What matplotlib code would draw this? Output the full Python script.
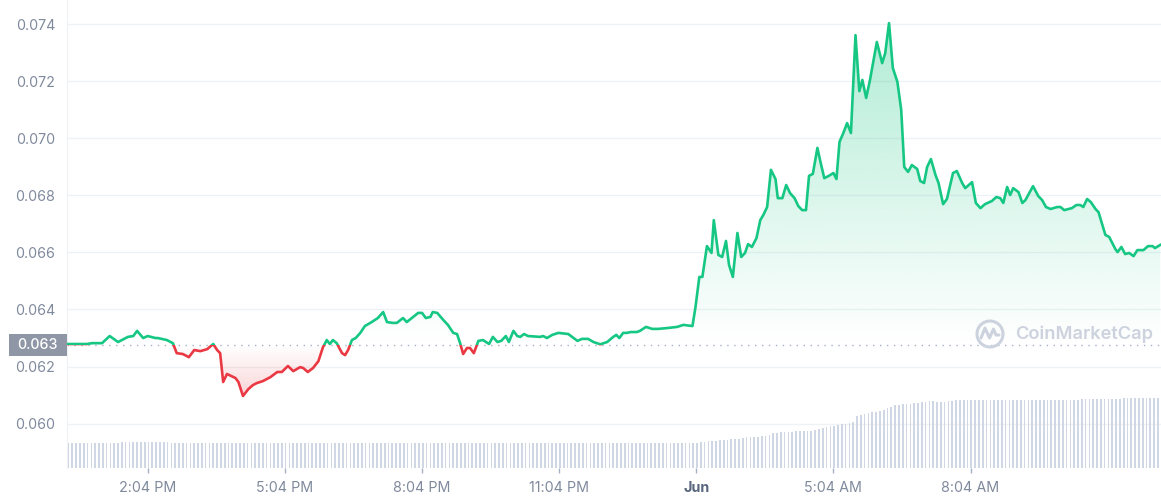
import numpy as np
import matplotlib
matplotlib.use("Agg")
import matplotlib.pyplot as plt
import matplotlib.transforms as mtransforms
from matplotlib.patches import Rectangle, Circle
from matplotlib.lines import Line2D
from matplotlib.colors import to_rgb

plt.rcParams['font.family'] = ['Inter', 'DejaVu Sans']

# minutes since the start of the 24h window (12:18 PM)
minutes = [
    0, 26, 33, 46, 56, 67, 80, 87, 92, 100,
    106, 116, 119, 131, 139, 144, 152, 160, 167, 175,
    184, 192, 197, 201, 205, 210, 221, 225, 231, 238,
    244, 249, 257, 267, 276, 282, 290, 297, 306, 310,
    316, 323, 330, 336, 341, 345, 349, 354, 361, 365,
    369, 374, 379, 385, 391, 400, 408, 415, 420, 427,
    433, 441, 446, 461, 466, 471, 477, 480, 486, 494,
    500, 507, 512, 516, 520, 525, 529, 534, 540, 546,
    554, 559, 565, 570, 576, 580, 586, 591, 595, 600,
    605, 621, 625, 630, 637, 645, 658, 663, 670, 676,
    684, 691, 700, 709, 717, 721, 725, 730, 735, 740,
    748, 752, 760, 768, 776, 788, 801, 809, 821, 825,
    830, 834, 840, 846, 849, 855, 860, 865, 869, 874,
    880, 885, 890, 894, 899, 905, 910, 914, 919, 924,
    930, 933, 939, 944, 949, 955, 960, 965, 970, 974,
    979, 985, 989, 994, 1000, 1006, 1010, 1014, 1019, 1024,
    1029, 1035, 1040, 1044, 1049, 1054, 1063, 1070, 1074, 1079,
    1084, 1090, 1095, 1099, 1104, 1109, 1116, 1120, 1125, 1129,
    1134, 1140, 1144, 1150, 1155, 1163, 1168, 1175, 1179, 1188,
    1193, 1199, 1205, 1214, 1220, 1225, 1229, 1234, 1238, 1242,
    1249, 1254, 1258, 1268, 1275, 1280, 1285, 1291, 1300, 1304,
    1309, 1319, 1325, 1330, 1334, 1339, 1344, 1350, 1354, 1363,
    1368, 1376, 1379, 1384, 1389, 1394, 1400, 1405, 1413, 1419,
    1425, 1428, 1435,
]

price = [
    0.06279, 0.06279, 0.06282, 0.06282, 0.06307, 0.06286, 0.06304, 0.06307, 0.06325, 0.06300,
    0.06307, 0.06300, 0.06300, 0.06293, 0.06282, 0.06247, 0.06244, 0.06233, 0.06258, 0.06254,
    0.06261, 0.06279, 0.06258, 0.06247, 0.06146, 0.06174, 0.06160, 0.06146, 0.06097, 0.06121,
    0.06135, 0.06142, 0.06149, 0.06163, 0.06181, 0.06181, 0.06202, 0.06184, 0.06198, 0.06195,
    0.06181, 0.06195, 0.06219, 0.06268, 0.06293, 0.06279, 0.06293, 0.06282, 0.06247, 0.06240,
    0.06258, 0.06293, 0.06300, 0.06318, 0.06342, 0.06356, 0.06370, 0.06391, 0.06356, 0.06353,
    0.06353, 0.06370, 0.06356, 0.06388, 0.06388, 0.06370, 0.06374, 0.06391, 0.06388, 0.06363,
    0.06346, 0.06318, 0.06314, 0.06282, 0.06244, 0.06265, 0.06265, 0.06247, 0.06290, 0.06293,
    0.06279, 0.06304, 0.06286, 0.06290, 0.06307, 0.06286, 0.06325, 0.06307, 0.06304, 0.06314,
    0.06307, 0.06304, 0.06307, 0.06300, 0.06311, 0.06318, 0.06314, 0.06304, 0.06290, 0.06297,
    0.06297, 0.06286, 0.06278, 0.06286, 0.06304, 0.06311, 0.06300, 0.06318, 0.06318, 0.06321,
    0.06321, 0.06325, 0.06339, 0.06332, 0.06332, 0.06335, 0.06339, 0.06346, 0.06342, 0.06409,
    0.06514, 0.06514, 0.06622, 0.06598, 0.06713, 0.06591, 0.06584, 0.06640, 0.06556, 0.06514,
    0.06668, 0.06584, 0.06598, 0.06629, 0.06619, 0.06650, 0.06713, 0.06731, 0.06759, 0.06889,
    0.06857, 0.06790, 0.06790, 0.06836, 0.06808, 0.06790, 0.06762, 0.06748, 0.06748, 0.06868,
    0.06875, 0.06966, 0.06917, 0.06860, 0.06868, 0.06878, 0.06857, 0.06987, 0.07018, 0.07053,
    0.07018, 0.07361, 0.07165, 0.07204, 0.07141, 0.07204, 0.07337, 0.07263, 0.07298, 0.07403,
    0.07246, 0.07197, 0.07099, 0.06899, 0.06882, 0.06906, 0.06892, 0.06850, 0.06843, 0.06899,
    0.06927, 0.06871, 0.06843, 0.06769, 0.06787, 0.06878, 0.06885, 0.06843, 0.06825, 0.06846,
    0.06773, 0.06755, 0.06769, 0.06780, 0.06794, 0.06790, 0.06773, 0.06829, 0.06801, 0.06825,
    0.06811, 0.06773, 0.06783, 0.06832, 0.06797, 0.06783, 0.06759, 0.06752, 0.06759, 0.06759,
    0.06748, 0.06755, 0.06766, 0.06766, 0.06759, 0.06787, 0.06776, 0.06752, 0.06741, 0.06661,
    0.06654, 0.06612, 0.06601, 0.06619, 0.06594, 0.06598, 0.06587, 0.06608, 0.06608, 0.06622,
    0.06622, 0.06615, 0.06626,
]

open_price = 0.06275
open_label = "0.063"

# 5-minute volume bars (relative units)
volume = ([25.4] * 14 + [26.4] * 13 + [25.4] * 139 +
          [26.0, 26.0, 26.5, 27.0, 27.0, 27.5, 28.4, 28.4, 29.0, 29.4,
           29.4, 30.0, 30.4, 30.4, 31.0, 31.0, 31.5, 31.7, 32.5, 34.4,
           35.0, 35.5, 36.0, 36.0, 36.2, 36.4, 36.5, 36.6, 36.7, 37.2,
           37.7, 38.5, 39.5, 40.5, 41.7, 42.2, 42.8, 43.4, 44.2, 45.0,
           46.0, 52.0, 52.8, 53.6, 54.5, 55.4, 56.0, 56.8, 57.7, 59.5,
           61.0, 62.7, 63.0, 63.4, 63.8, 64.1, 64.4, 64.8, 65.3, 65.8,
           66.3, 66.7, 66.2, 66.0, 66.0, 66.5, 67.0, 67.3, 67.5, 67.7, 67.8, 67.9] +
          [68.0] * 28 + [69.0] * 11 + [69.5] * 11)

price_ticks = [0.060, 0.062, 0.064, 0.066, 0.068, 0.070, 0.072, 0.074]
time_labels = ["2:04 PM", "5:04 PM", "8:04 PM", "11:04 PM", "Jun", "5:04 AM", "8:04 AM"]
first_tick = 106   # 2:04 PM
tick_step = 180
window = 1436

green = '#16c784'
red = '#ea3943'
label_grey = '#808a9d'

t = np.array(minutes, dtype=float)
p = np.array(price)

fig = plt.figure(figsize=(11.61, 5.0), dpi=100)
ax = fig.add_axes([67 / 1161, 32 / 500, 1094 / 1161, 468 / 500])
ax.patch.set_visible(False)

ylo, yhi = 0.058447, 0.074841

# gradient fills, clipped to area between line and open price
grad = np.linspace(0, 1, 256).reshape(-1, 1)

g_rgba = np.zeros((256, 1, 4))
g_rgba[..., :3] = to_rgb(green)
g_rgba[..., 3] = 0.34 * grad
im_g = ax.imshow(g_rgba, extent=[0, window, open_price, 0.0741], origin='lower',
                 aspect='auto', zorder=1, interpolation='bilinear')
up = np.column_stack([np.r_[t, t[-1], t[0]], np.r_[np.maximum(p, open_price), open_price, open_price]])
poly_up = plt.Polygon(up, closed=True, transform=ax.transData)
im_g.set_clip_path(poly_up)

r_rgba = np.zeros((256, 1, 4))
r_rgba[..., :3] = to_rgb(red)
r_rgba[..., 3] = 0.22 * (1 - grad)
im_r = ax.imshow(r_rgba, extent=[0, window, 0.0609, open_price], origin='lower',
                 aspect='auto', zorder=1, interpolation='bilinear')
dn = np.column_stack([np.r_[t, t[-1], t[0]], np.r_[np.minimum(p, open_price), open_price, open_price]])
poly_dn = plt.Polygon(dn, closed=True, transform=ax.transData)
im_r.set_clip_path(poly_dn)

# price line: green above the open, red below
line_g, = ax.plot(t, p, color=green, lw=1.9, solid_joinstyle='round', zorder=3)
line_r, = ax.plot(t, p, color=red, lw=1.9, solid_joinstyle='round', zorder=3)
line_g.set_clip_path(Rectangle((-10, open_price), window + 20, 1, transform=ax.transData))
line_r.set_clip_path(Rectangle((-10, open_price - 1), window + 20, 1, transform=ax.transData))

ax.axhline(open_price, color='#a6b0c3', lw=1, ls=(0, (1, 4)), zorder=2)

ax.set_xlim(0, window)
ax.set_ylim(ylo, yhi)
ax.set_yticks(price_ticks)
ax.set_yticklabels([f"{v:.3f}" for v in price_ticks])
ax.grid(axis='y', color='#eff2f5', lw=1)
ax.set_axisbelow(True)
ax.tick_params(axis='y', length=0, pad=8.5, labelsize=10.3, labelcolor=label_grey)

ax.set_xticks([first_tick + tick_step * k for k in range(len(time_labels))])
ax.set_xticklabels(time_labels)
ax.tick_params(axis='x', length=3.5, width=1, color='#a6b0c3', pad=6,
               labelsize=10.3, labelcolor=label_grey)
jun = ax.get_xticklabels()[time_labels.index("Jun")]
jun.set_fontweight('bold')
jun.set_color('#58667e')

for s in ['top', 'right', 'bottom']:
    ax.spines[s].set_visible(False)
ax.spines['left'].set_color('#eff2f5')

# volume bars on a twin axis
axv = ax.twinx()
vol_x = np.arange(len(volume)) * 5 + 2
axv.bar(vol_x, volume, width=2.2, color='#cfd6e4', linewidth=0)
axv.set_ylim(0, max(volume) / 0.149)
axv.set_xlim(0, window)
axv.set_yticks([])
for s in axv.spines.values():
    s.set_visible(False)

# open price tag on the axis
blend = mtransforms.blended_transform_factory(ax.transAxes, ax.transData)
half = 11 * (yhi - ylo) / 468
ax.add_patch(Rectangle((-58 / 1094, open_price - half), 58 / 1094, 2 * half,
                       transform=blend, facecolor='#8f97a6', edgecolor='none',
                       clip_on=False, zorder=5))
ax.text(-29 / 1094, open_price, open_label, transform=blend, ha='center', va='center',
        color='white', fontsize=10.3, fontweight='medium', zorder=6, clip_on=False)

# watermark
wm = '#cdd3de'
ident = mtransforms.IdentityTransform()
fig.patches.append(Circle((990, 166), 13, transform=ident, facecolor='none',
                          edgecolor=wm, lw=2.2))
fig.lines.append(Line2D([981, 985, 989.5, 993.5, 996, 999], [162, 172, 162, 171, 165, 165],
                        transform=ident, color=wm, lw=2.2, solid_joinstyle='round',
                        solid_capstyle='round'))
fig.text(1015 / 1161, 166 / 500, "CoinMarketCap", fontsize=13.2, fontweight='semibold',
         color=wm, ha='left', va='center')

fig.savefig("out.png", dpi=100)
